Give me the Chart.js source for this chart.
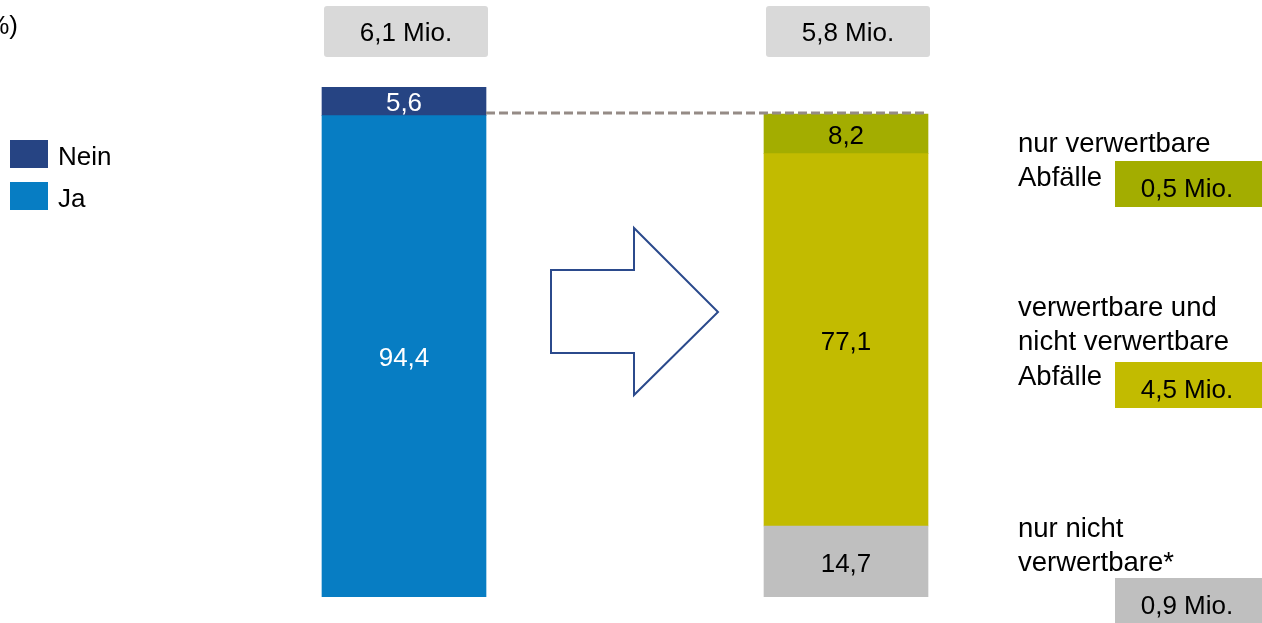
<!DOCTYPE html>
<html>
<head>
<meta charset="utf-8">
<script src="https://cdn.jsdelivr.net/npm/chart.js@4/dist/chart.umd.min.js"></script>
<style>
  html, body { margin: 0; padding: 0; background: #fff; }
  #wrap { width: 1262px; height: 623px; position: relative; }
</style>
</head>
<body>
<div id="wrap"><canvas id="chart" width="1262" height="623"></canvas></div>
<script>
const categories = ['Abfälle', 'Trennung'];
const totalsMio = [6.1, 5.8];
const neinValues = [5.6, null];
const jaValues = [94.4, null];
const nurNichtValues = [null, 14.7];
const beideValues = [null, 77.1];
const nurVerwertbarValues = [null, 8.2];
const groupMio = [0.5, 4.5, 0.9];
const groupLabels = [
  ['nur verwertbare', 'Abfälle'],
  ['verwertbare und', 'nicht verwertbare', 'Abfälle'],
  ['nur nicht', 'verwertbare*']
];

const FONT = '26px "Liberation Sans", Arial, sans-serif';
const FONT_R = '27.5px "Liberation Sans", Arial, sans-serif';
const colNein = '#264483';
const colJa = '#077dc3';
const colNurVerw = '#a3ad00';
const colBeide = '#c2bb00';
const colNurNicht = '#bfbfbf';

const fmt = (v) => v.toFixed(1).replace('.', ',');

const annotations = {
  id: 'annotations',
  afterDatasetsDraw(chart) {
    const ctx = chart.ctx;
    ctx.save();
    ctx.font = FONT;
    ctx.textBaseline = 'middle';

    // segment labels
    chart.data.datasets.forEach((ds, i) => {
      const meta = chart.getDatasetMeta(i);
      meta.data.forEach((el, j) => {
        const v = ds.data[j];
        if (v == null) return;
        ctx.fillStyle = ds.labelColor;
        ctx.textAlign = 'center';
        ctx.fillText(fmt(v), el.x, (el.y + el.base) / 2 + 3);
      });
    });

    // total boxes above the bars
    const bars = [chart.getDatasetMeta(0).data[0], chart.getDatasetMeta(2).data[1]];
    bars.forEach((el, j) => {
      const w = el.width;
      ctx.fillStyle = '#d9d9d9';
      ctx.beginPath();
      ctx.roundRect(el.x - w / 2 + 2, 6, w, 51, 3);
      ctx.fill();
      ctx.fillStyle = '#000';
      ctx.textAlign = 'center';
      ctx.fillText(fmt(totalsMio[j]) + ' Mio.', el.x + 2, 34);
    });

    // dashed line from bar 1 top to bar 2
    const b1 = bars[0], b2 = bars[1];
    const top2 = chart.getDatasetMeta(4).data[1].y;
    ctx.strokeStyle = '#958b86';
    ctx.lineWidth = 3;
    ctx.setLineDash([9, 4]);
    ctx.beginPath();
    ctx.moveTo(b1.x + b1.width / 2, top2 - 1);
    ctx.lineTo(b2.x + b2.width / 2, top2 - 1);
    ctx.stroke();
    ctx.setLineDash([]);

    // arrow
    ctx.strokeStyle = '#2b4a8c';
    ctx.lineWidth = 2;
    ctx.beginPath();
    ctx.moveTo(551, 270);
    ctx.lineTo(634, 270);
    ctx.lineTo(634, 228);
    ctx.lineTo(718, 312);
    ctx.lineTo(634, 395);
    ctx.lineTo(634, 353);
    ctx.lineTo(551, 353);
    ctx.closePath();
    ctx.stroke();

    // legend
    [[colNein, 'Nein', 140], [colJa, 'Ja', 182]].forEach(([c, t, y]) => {
      ctx.fillStyle = c;
      ctx.fillRect(10, y, 38, 28);
      ctx.fillStyle = '#000';
      ctx.textAlign = 'left';
      ctx.fillText(t, 58, y + 18);
    });

    // top-left cut-off title
    ctx.textAlign = 'right';
    ctx.fillText('(in %)', 18, 27);

    // right side group labels
    const groupTop = [144, 308, 529];
    const boxY = [161, 362, 578];
    const boxCol = [colNurVerw, colBeide, colNurNicht];
    groupLabels.forEach((lines, k) => {
      ctx.fillStyle = boxCol[k];
      ctx.fillRect(1115, boxY[k], 150, 46);
      ctx.fillStyle = '#000';
      ctx.textAlign = 'left';
      ctx.font = FONT_R;
      lines.forEach((ln, m) => ctx.fillText(ln, 1018, groupTop[k] + m * 34.5));
      ctx.font = FONT;
      ctx.textAlign = 'center';
      ctx.fillText(fmt(groupMio[k]) + ' Mio.', 1187, boxY[k] + 29);
    });

    ctx.restore();
  }
};

new Chart(document.getElementById('chart'), {
  type: 'bar',
  data: {
    labels: categories,
    datasets: [
      { label: 'Ja', data: jaValues, backgroundColor: colJa, yAxisID: 'y', labelColor: '#fff' },
      { label: 'Nein', data: neinValues, backgroundColor: colNein, yAxisID: 'y', labelColor: '#fff' },
      { label: 'nur nicht verwertbare', data: nurNichtValues, backgroundColor: colNurNicht, yAxisID: 'y2', labelColor: '#000' },
      { label: 'verwertbare und nicht verwertbare', data: beideValues, backgroundColor: colBeide, yAxisID: 'y2', labelColor: '#000' },
      { label: 'nur verwertbare', data: nurVerwertbarValues, backgroundColor: colNurVerw, yAxisID: 'y2', labelColor: '#000' }
    ]
  },
  options: {
    responsive: false,
    animation: false,
    events: [],
    layout: { padding: { left: 183, right: 195, top: 87, bottom: 26 } },
    datasets: { bar: { barThickness: 164, borderWidth: 0 } },
    plugins: { legend: { display: false }, tooltip: { enabled: false } },
    scales: {
      x: { stacked: true, display: false },
      y: { stacked: true, display: false, min: 0, max: 100 },
      y2: { stacked: true, display: false, min: 0, max: 105.6 }
    }
  },
  plugins: [annotations]
});
</script>
</body>
</html>
